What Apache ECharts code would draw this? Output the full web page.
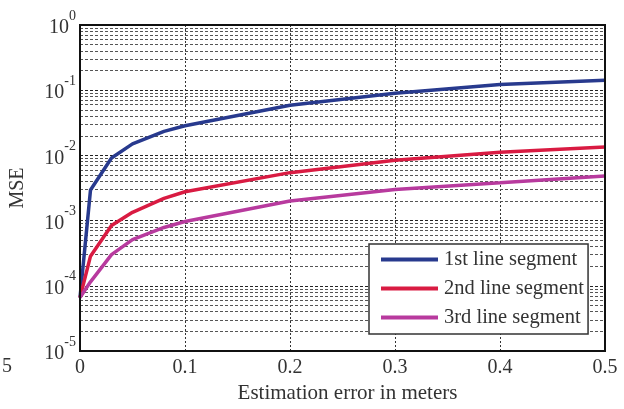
<!DOCTYPE html>
<html>
<head>
<meta charset="utf-8">
<script src="https://cdn.jsdelivr.net/npm/echarts@6/dist/echarts.min.js"></script>
<style>html,body{margin:0;padding:0;background:#fff}#c{width:624px;height:409px}</style>
</head>
<body>
<div id="c"></div>
<script>
var xValues = [0, 0.01, 0.03, 0.05, 0.08, 0.1, 0.2, 0.3, 0.4, 0.5];
var seg1 = [6.6e-5, 2.95e-3, 9.1e-3, 0.015, 0.0234, 0.0285, 0.0588, 0.090, 0.1225, 0.142];
var seg2 = [6.6e-5, 2.85e-4, 8.4e-4, 1.34e-3, 2.19e-3, 2.77e-3, 5.44e-3, 8.4e-3, 0.0112, 0.0134];
var seg3 = [6.6e-5, 1.15e-4, 3.0e-4, 5.1e-4, 7.85e-4, 9.7e-4, 2.0e-3, 3.0e-3, 3.8e-3, 4.84e-3];
var seriesNames = ['1st line segment', '2nd line segment', '3rd line segment'];
var xTicks = [0, 0.1, 0.2, 0.3, 0.4, 0.5];
var yDecades = [-5, -4, -3, -2, -1, 0];
var minorMultipliers = [2, 3, 4, 5, 6, 7, 8, 9];

var FONT = '"Liberation Serif", "DejaVu Serif", serif';
function pairs(ys) { return xValues.map(function (x, i) { return [x, ys[i]]; }); }

var minorLines = [];
for (var d = 0; d < yDecades.length - 1; d++) {
  minorMultipliers.forEach(function (m) {
    var v = m * Math.pow(10, yDecades[d]);
    minorLines.push({ coords: [[xTicks[0], v], [xTicks[xTicks.length - 1], v]] });
  });
}

var chart = echarts.init(document.getElementById('c'), null, { renderer: 'canvas' });
chart.setOption({
  animation: false,
  backgroundColor: '#fff',
  textStyle: { fontFamily: FONT },
  grid: { left: 80, right: 19, top: 25, bottom: 55, show: true, borderColor: '#111', borderWidth: 2, backgroundColor: 'transparent', z: 10 },
  xAxis: {
    type: 'value', min: 0, max: 0.5, interval: 0.1,
    name: 'Estimation error in meters', nameLocation: 'middle', nameGap: 32,
    nameTextStyle: { fontFamily: FONT, fontSize: 21, color: '#333', padding: [0, 0, 0, 10] },
    axisLine: { lineStyle: { color: '#111', width: 2 } },
    axisTick: { show: false },
    axisLabel: { fontFamily: FONT, fontSize: 20, color: '#333', margin: 7,
      formatter: function (v) { return v === 0 ? '0' : v.toFixed(1); } },
    splitLine: { show: true, lineStyle: { color: '#333', width: 1, type: [2, 2] } }
  },
  yAxis: {
    type: 'log', logBase: 10, min: 1e-5, max: 1, interval: 1,
    name: 'MSE', nameLocation: 'middle', nameGap: 52, nameRotate: 90,
    nameTextStyle: { fontFamily: FONT, fontSize: 20, color: '#333' },
    axisLine: { show: true, lineStyle: { color: '#111', width: 2 } },
    axisTick: { show: false },
    axisLabel: {
      margin: 4,
      formatter: function (v) { return '{b|10}{e|' + Math.round(Math.log10(v)) + '}'; },
      rich: {
        b: { fontFamily: FONT, fontSize: 20, color: '#333', verticalAlign: 'bottom', lineHeight: 22, padding: [0, 0, -2, 0] },
        e: { fontFamily: FONT, fontSize: 14, color: '#333', verticalAlign: 'bottom', lineHeight: 22, padding: [0, 0, 13, 0] }
      }
    },
    splitLine: { show: true, lineStyle: { color: '#222', width: 1, type: [3, 2] } }
  },
  legend: {
    data: seriesNames, orient: 'vertical', left: 369, top: 244,
    backgroundColor: '#fff', borderColor: '#333', borderWidth: 1.5,
    padding: [5, 4, 6, 12], itemGap: 8, itemWidth: 57, itemHeight: 4, icon: 'rect',
    textStyle: { fontFamily: FONT, fontSize: 20.5, color: '#333', lineHeight: 20, padding: [0, 0, 0, 1] },
    z: 20
  },
  series: [
    { name: 'grid-minor', type: 'lines', coordinateSystem: 'cartesian2d', silent: true, z: 1,
      lineStyle: { color: '#555', width: 1, type: [3, 2], opacity: 1 }, data: minorLines },
    { name: seriesNames[0], type: 'line', data: pairs(seg1), showSymbol: false, color: '#283a8e', lineStyle: { width: 3.5 }, z: 3 },
    { name: seriesNames[1], type: 'line', data: pairs(seg2), showSymbol: false, color: '#d91b42', lineStyle: { width: 3.5 }, z: 3 },
    { name: seriesNames[2], type: 'line', data: pairs(seg3), showSymbol: false, color: '#b83a9e', lineStyle: { width: 3.5 }, z: 3 }
  ],
  graphic: [
    { type: 'text', left: 2, top: 357, style: { text: '5', fontFamily: FONT, fontSize: 20, fill: '#333' } }
  ]
});
</script>
</body>
</html>
